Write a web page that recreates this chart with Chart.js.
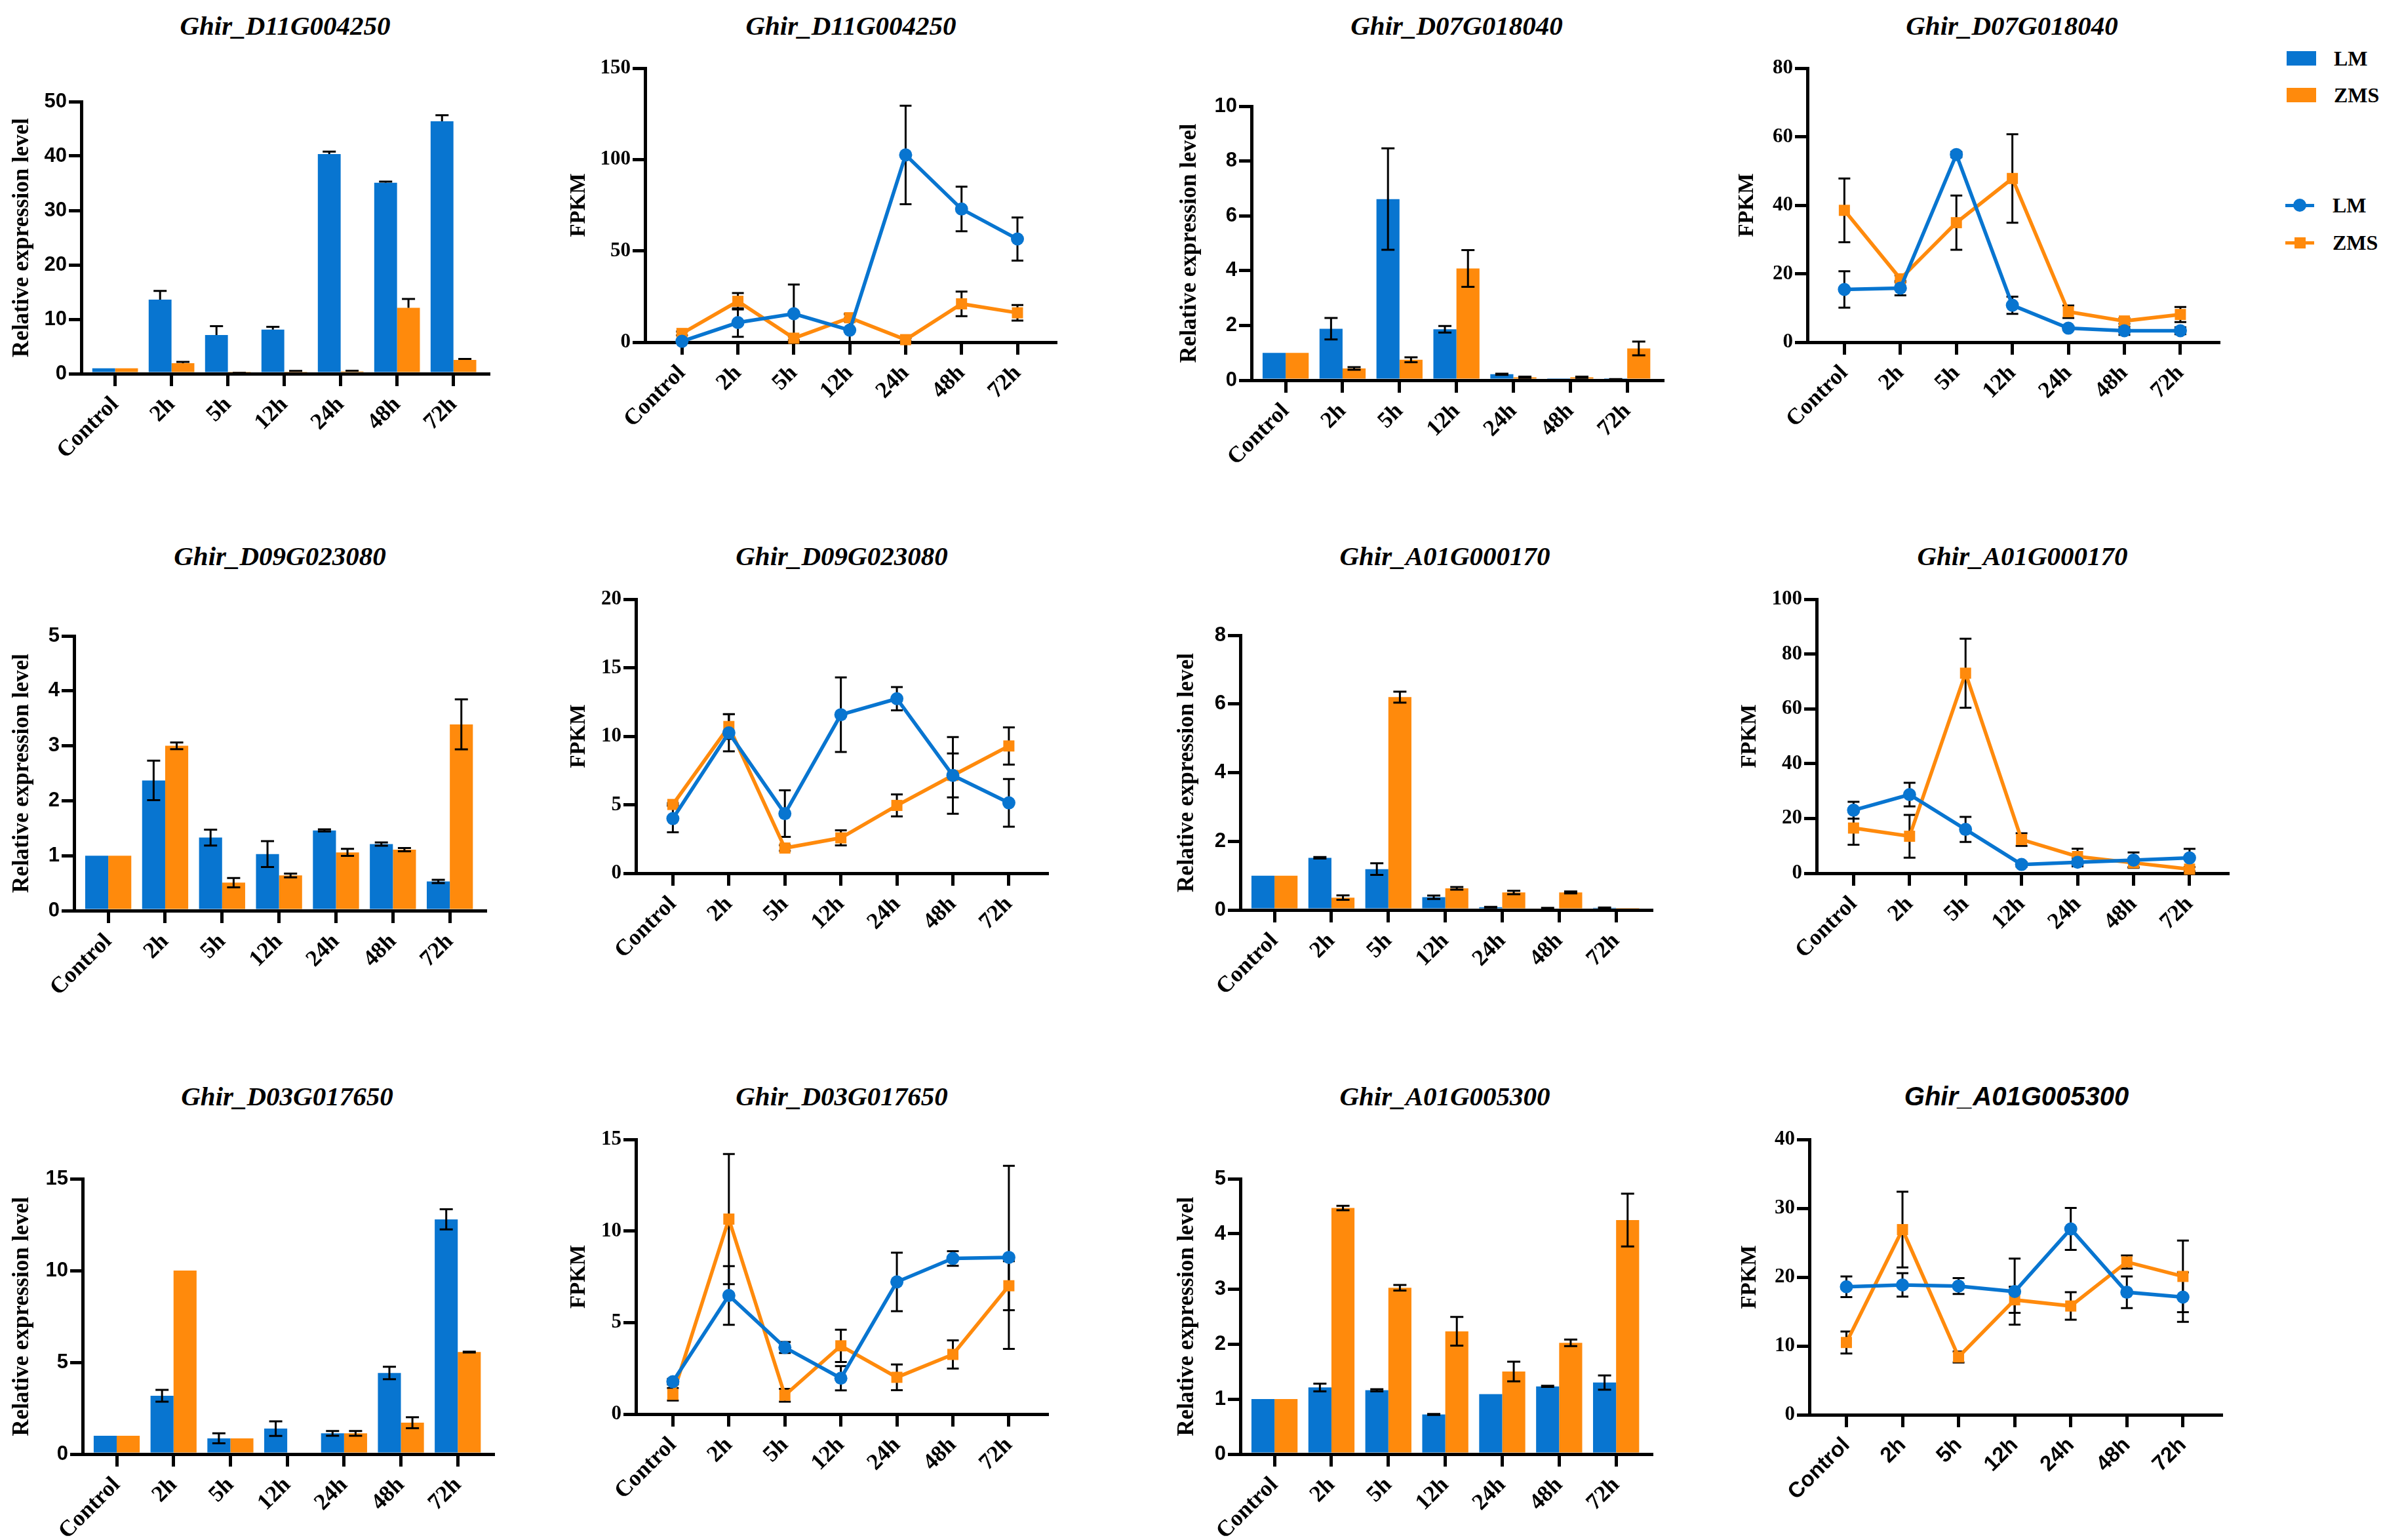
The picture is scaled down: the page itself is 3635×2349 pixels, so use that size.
<!DOCTYPE html>
<html><head><meta charset="utf-8">
<script src="https://cdn.jsdelivr.net/npm/chart.js@4/dist/chart.umd.min.js"></script>
<style>
html,body{margin:0;padding:0;background:#fff;}
body{width:3635px;height:2349px;position:relative;overflow:hidden;}
canvas{position:absolute;}
.ttl{position:absolute;font-style:italic;font-weight:bold;font-size:41px;font-family:"Liberation Serif";line-height:1;white-space:nowrap;color:#000;transform:translate(-50%,-50%);}
.ttl.sans{font-family:"Liberation Sans";font-size:40px;}
.lgbox{position:absolute;}
.lgt{position:absolute;font:bold 32px "Liberation Serif";line-height:1;transform:translateY(-50%);color:#000;}
</style></head><body>
<script>
// ---------- DATA ----------
const categories = ['Control','2h','5h','12h','24h','48h','72h'];
const seriesNames = ['LM','ZMS'];
const geneTitles = ['Ghir_D11G004250','Ghir_D11G004250','Ghir_D07G018040','Ghir_D07G018040',
  'Ghir_D09G023080','Ghir_D09G023080','Ghir_A01G000170','Ghir_A01G000170',
  'Ghir_D03G017650','Ghir_D03G017650','Ghir_A01G005300','Ghir_A01G005300'];
const yTickMax  = [50,150,10,80, 5,20,8,100, 15,15,5,40];
const yTickStep = [10,50,2,20, 1,5,2,20, 5,5,1,10];

// D11G004250 relative expression
const d11RelLM = [1.0,13.6,7.1,8.1,40.35,35.1,46.4];
const d11RelLMErr = [0,1.6,1.65,0.5,0.45,0.2,1.1];
const d11RelZMS = [1.0,1.93,0.1,0.36,0.42,12.1,2.53];
const d11RelZMSErr = [0,0.24,0.05,0.14,0.13,1.65,0.17];
// D11G004250 FPKM
const d11FpkmLM = [0.5,10.75,15.6,6.6,102.5,72.9,56.5];
const d11FpkmLMErr = [0.3,7.8,16,6.4,27,12.2,11.8];
const d11FpkmZMS = [4.8,22.4,2.2,13.4,1.4,21.0,16.1];
const d11FpkmZMSErr = [1.0,4.5,1.0,2.0,0.8,6.7,4.3];
// D07G018040 relative expression
const d07RelLM = [1.0,1.88,6.61,1.86,0.22,0.01,0.03];
const d07RelLMErr = [0,0.39,1.85,0.12,0.02,0,0.01];
const d07RelZMS = [1.0,0.43,0.75,4.08,0.11,0.11,1.16];
const d07RelZMSErr = [0,0.05,0.09,0.67,0.02,0.02,0.25];
// D07G018040 FPKM
const d07FpkmLM = [15.4,15.8,54.8,10.8,4.1,3.35,3.35];
const d07FpkmLMErr = [5.3,2.1,0.8,2.5,0.6,1.2,1.0];
const d07FpkmZMS = [38.5,18.5,34.9,47.8,8.9,6.2,8.1];
const d07FpkmZMSErr = [9.3,1.0,7.9,12.9,1.8,0.8,2.2];
// D09G023080 relative expression
const d09RelLM = [1.0,2.37,1.33,1.03,1.46,1.21,0.53];
const d09RelLMErr = [0,0.36,0.145,0.235,0.02,0.03,0.03];
const d09RelZMS = [1.0,3.0,0.51,0.64,1.06,1.11,3.39];
const d09RelZMSErr = [0,0.06,0.085,0.035,0.065,0.03,0.455];
// D09G023080 FPKM
const d09FpkmLM = [3.99,10.25,4.35,11.57,12.74,7.14,5.14];
const d09FpkmLMErr = [1.0,1.35,1.7,2.72,0.85,2.8,1.74];
const d09FpkmZMS = [5.02,10.71,1.84,2.58,4.95,7.14,9.29];
const d09FpkmZMSErr = [0.1,0.9,0.2,0.55,0.8,1.6,1.36];
// A01G000170 relative expression
const a170RelLM = [1.0,1.52,1.19,0.37,0.08,0.05,0.06];
const a170RelLMErr = [0,0.02,0.17,0.05,0.01,0.01,0.01];
const a170RelZMS = [1.0,0.36,6.2,0.63,0.51,0.51,0.01];
const a170RelZMSErr = [0,0.065,0.16,0.04,0.05,0.03,0];
// A01G000170 FPKM
const a170FpkmLM = [23.0,28.7,16.0,3.2,4.0,4.8,5.6];
const a170FpkmLMErr = [3.1,4.3,4.6,0.8,1.5,2.8,3.3];
const a170FpkmZMS = [16.5,13.5,73.0,12.3,6.1,3.8,1.5];
const a170FpkmZMSErr = [6.1,7.8,12.6,2.3,2.9,1.5,0.8];
// D03G017650 relative expression
const d03RelLM = [1.0,3.18,0.86,1.39,1.13,4.42,12.79];
const d03RelLMErr = [0,0.32,0.27,0.4,0.13,0.34,0.55];
const d03RelZMS = [1.0,10.0,0.86,0,1.13,1.71,5.56];
const d03RelZMSErr = [0,0,0,0,0.13,0.3,0.02];
// D03G017650 FPKM
const d03FpkmLM = [1.77,6.48,3.64,1.96,7.22,8.5,8.56];
const d03FpkmLMErr = [0.15,1.6,0.3,0.66,1.6,0.4,5.0];
const d03FpkmZMS = [1.08,10.65,1.03,3.73,2.01,3.26,7.01];
const d03FpkmZMSErr = [0.34,3.55,0.35,0.88,0.7,0.77,1.34];
// A01G005300 relative expression
const a300RelLM = [1.0,1.21,1.16,0.72,1.09,1.23,1.30];
const a300RelLMErr = [0,0.07,0.02,0.01,0,0.01,0.13];
const a300RelZMS = [1.0,4.47,3.02,2.23,1.5,2.02,4.25];
const a300RelZMSErr = [0,0.04,0.05,0.26,0.18,0.06,0.48];
// A01G005300 FPKM
const a300FpkmLM = [18.6,18.86,18.7,17.9,27.0,17.8,17.1];
const a300FpkmLMErr = [1.5,1.7,1.15,4.8,3.05,2.3,3.6];
const a300FpkmZMS = [10.5,26.9,8.4,16.7,15.8,22.2,20.1];
const a300FpkmZMSErr = [1.6,5.5,0.8,1.9,2.0,0.95,5.2];

// ---------- PANEL DEFINITIONS (data references) ----------
const panelData = [
  {kind:'bar',  lm:d11RelLM,  lmE:d11RelLMErr,  zms:d11RelZMS,  zmsE:d11RelZMSErr, upOnly:true},
  {kind:'line', lm:d11FpkmLM, lmE:d11FpkmLMErr, zms:d11FpkmZMS, zmsE:d11FpkmZMSErr},
  {kind:'bar',  lm:d07RelLM,  lmE:d07RelLMErr,  zms:d07RelZMS,  zmsE:d07RelZMSErr},
  {kind:'line', lm:d07FpkmLM, lmE:d07FpkmLMErr, zms:d07FpkmZMS, zmsE:d07FpkmZMSErr},
  {kind:'bar',  lm:d09RelLM,  lmE:d09RelLMErr,  zms:d09RelZMS,  zmsE:d09RelZMSErr},
  {kind:'line', lm:d09FpkmLM, lmE:d09FpkmLMErr, zms:d09FpkmZMS, zmsE:d09FpkmZMSErr},
  {kind:'bar',  lm:a170RelLM, lmE:a170RelLMErr, zms:a170RelZMS, zmsE:a170RelZMSErr},
  {kind:'line', lm:a170FpkmLM,lmE:a170FpkmLMErr,zms:a170FpkmZMS,zmsE:a170FpkmZMSErr},
  {kind:'bar',  lm:d03RelLM,  lmE:d03RelLMErr,  zms:d03RelZMS,  zmsE:d03RelZMSErr},
  {kind:'line', lm:d03FpkmLM, lmE:d03FpkmLMErr, zms:d03FpkmZMS, zmsE:d03FpkmZMSErr},
  {kind:'bar',  lm:a300RelLM, lmE:a300RelLMErr, zms:a300RelZMS, zmsE:a300RelZMSErr},
  {kind:'line', lm:a300FpkmLM,lmE:a300FpkmLMErr,zms:a300FpkmZMS,zmsE:a300FpkmZMSErr, sans:true}
];

// ---------- LAYOUT (pixels) ----------
const layoutBoxes = [
  {axL:124, axR:745,  yTop:155, yBot:570,  dist:90,  tx:435,  ty:39},
  {axL:984, axR:1610, yTop:104, yBot:522,  dist:101, tx:1298, ty:39},
  {axL:1909,axR:2536, yTop:162, yBot:580,  dist:94,  tx:2222, ty:39},
  {axL:2757,axR:3384, yTop:104, yBot:522,  dist:92,  tx:3069, ty:39},
  {axL:113, axR:740,  yTop:970, yBot:1389, dist:79,  tx:427,  ty:848},
  {axL:970, axR:1597, yTop:914, yBot:1332, dist:87,  tx:1284, ty:848},
  {axL:1892,axR:2519, yTop:969, yBot:1388, dist:81,  tx:2204, ty:848},
  {axL:2771,axR:3398, yTop:914, yBot:1332, dist:102, tx:3085, ty:848},
  {axL:126, axR:752,  yTop:1798,yBot:2218, dist:92,  tx:438,  ty:1672},
  {axL:970, axR:1597, yTop:1738,yBot:2157, dist:87,  tx:1284, ty:1672},
  {axL:1892,axR:2519, yTop:1798,yBot:2218, dist:81,  tx:2204, ty:1672},
  {axL:2760,axR:3388, yTop:1738,yBot:2158, dist:91,  tx:3076, ty:1672}
];
const COLORS = ['#0875d0','#ff8a0c'];
const YW = 150, XH = 200, TP = 30, RP = 20;

const errorBarPlugin = {
  id: 'errbars',
  beforeDatasetsDraw(chart, args, opts) { if (opts.behind) drawErr(chart, opts); },
  afterDatasetsDraw(chart, args, opts) { if (!opts.behind) drawErr(chart, opts); }
};
function drawErr(chart, opts) {
  const ctx = chart.ctx, ys = chart.scales.y;
  ctx.save();
  ctx.strokeStyle = '#000'; ctx.lineWidth = opts.width; ctx.lineCap = 'butt';
  chart.data.datasets.forEach((ds, i) => {
    const meta = chart.getDatasetMeta(i);
    ds.errors.forEach((e, j) => {
      if (!e) return;
      const v = ds.data[j].y;
      const x = meta.data[j].x;
      const yT = ys.getPixelForValue(v + e);
      const yB = opts.upOnly ? ys.getPixelForValue(v) : ys.getPixelForValue(Math.max(v - e, 0));
      const h = opts.cap / 2;
      ctx.beginPath();
      ctx.moveTo(x, yT); ctx.lineTo(x, yB);
      ctx.moveTo(x - h, yT); ctx.lineTo(x + h, yT);
      if (!opts.upOnly && v - e > 0) { ctx.moveTo(x - h, yB); ctx.lineTo(x + h, yB); }
      ctx.stroke();
    });
  });
  ctx.restore();
}

function makeTitle(text, x, y, sans) {
  const d = document.createElement('div');
  d.className = 'ttl' + (sans ? ' sans' : '');
  d.textContent = text; d.style.left = x + 'px'; d.style.top = y + 'px';
  document.body.appendChild(d);
}

panelData.forEach((p, idx) => {
  const L = layoutBoxes[idx];
  const isBar = p.kind === 'bar';
  makeTitle(geneTitles[idx], L.tx, L.ty, p.sans);
  const W = L.axR - L.axL + YW + RP, H = L.yBot - L.yTop + TP + XH;
  const cv = document.createElement('canvas');
  cv.width = W; cv.height = H;
  cv.style.left = (L.axL - YW) + 'px'; cv.style.top = (L.yTop - TP) + 'px';
  cv.style.width = W + 'px'; cv.style.height = H + 'px';
  document.body.appendChild(cv);
  const series = [[p.lm, p.lmE], [p.zms, p.zmsE]];
  const datasets = series.map((s, k) => {
    const base = {
      label: seriesNames[k],
      data: s[0].map((v, i) => ({x: i, y: v})),
      errors: s[1],
      backgroundColor: COLORS[k], borderColor: COLORS[k]
    };
    if (isBar) Object.assign(base, {borderWidth: 0, categoryPercentage: 0.81, barPercentage: 1.0});
    else Object.assign(base, {borderWidth: 5.5, pointStyle: k ? 'rect' : 'circle', pointRadius: k ? 12 : 10,
      pointBorderWidth: 0, pointBackgroundColor: COLORS[k], tension: 0, clip: false});
    return base;
  });
  const yTitle = isBar ? 'Relative expression level' : 'FPKM';
  const yTitleSize = isBar ? 35 : 33;
  const gridCfg = {display: true, drawOnChartArea: false, drawTicks: true, tickLength: 19, lineWidth: 5, color: '#000', offset: false};
  new Chart(cv, {
    type: isBar ? 'bar' : 'line',
    data: {datasets},
    plugins: [errorBarPlugin],
    options: {
      responsive: false, animation: false, devicePixelRatio: 1,
      layout: {padding: {left: 0, top: TP, right: RP, bottom: 0}},
      plugins: {legend: {display: false}, tooltip: {enabled: false},
        errbars: {behind: !isBar, upOnly: !!p.upOnly, cap: isBar ? 20 : 18, width: 3}},
      scales: {
        x: {
          type: 'linear', min: isBar ? -0.6 : -0.66, max: isBar ? 6.62 : 6.68, offset: false,
          afterBuildTicks: s => { s.ticks = categories.map((c, i) => ({value: i})); },
          afterFit: s => { s.height = XH; },
          grid: gridCfg,
          border: {display: true, width: 5, color: '#000', z: isBar ? 1 : 0},
          ticks: {autoSkip: false, minRotation: 45, maxRotation: 45, padding: 8, color: '#000',
            font: {family: p.sans ? 'Liberation Sans' : 'Liberation Serif', weight: 'bold', size: p.sans ? 33 : 35},
            callback: v => categories[v]}
        },
        y: {
          min: 0, max: yTickMax[idx],
          afterFit: s => { s.width = YW; },
          grid: gridCfg,
          border: {display: true, width: 5, color: '#000', z: isBar ? 1 : 0},
          ticks: {stepSize: yTickStep[idx], padding: 3, color: '#000',
            font: {family: isBar ? 'Liberation Sans' : 'Liberation Serif', weight: 'bold', size: 31}},
          title: {display: true, text: yTitle, color: '#000',
            font: {family: 'Liberation Serif', weight: 'bold', size: yTitleSize},
            padding: {top: YW - L.dist - yTitleSize * 0.6, bottom: 0}}
        }
      }
    }
  });
});

// ---------- LEGEND ----------
function box(l, t, w, h, css) {
  const d = document.createElement('div'); d.className = 'lgbox';
  d.style.cssText = `left:${l}px;top:${t}px;width:${w}px;height:${h}px;` + css;
  document.body.appendChild(d);
}
function ltxt(text, l, cy) {
  const d = document.createElement('div'); d.className = 'lgt';
  d.textContent = text; d.style.left = l + 'px'; d.style.top = cy + 'px';
  document.body.appendChild(d);
}
box(3488, 78, 45, 22, 'background:' + COLORS[0]);
ltxt(seriesNames[0], 3560, 89);
box(3488, 134, 45, 22, 'background:' + COLORS[1]);
ltxt(seriesNames[1], 3560, 145);
box(3486, 311, 44, 5, 'background:' + COLORS[0]);
box(3498, 303, 20, 20, 'background:' + COLORS[0] + ';border-radius:50%');
ltxt(seriesNames[0], 3558, 313);
box(3486, 368, 44, 5, 'background:' + COLORS[1]);
box(3500, 362, 17, 17, 'background:' + COLORS[1]);
ltxt(seriesNames[1], 3558, 370);
</script>
</body></html>
